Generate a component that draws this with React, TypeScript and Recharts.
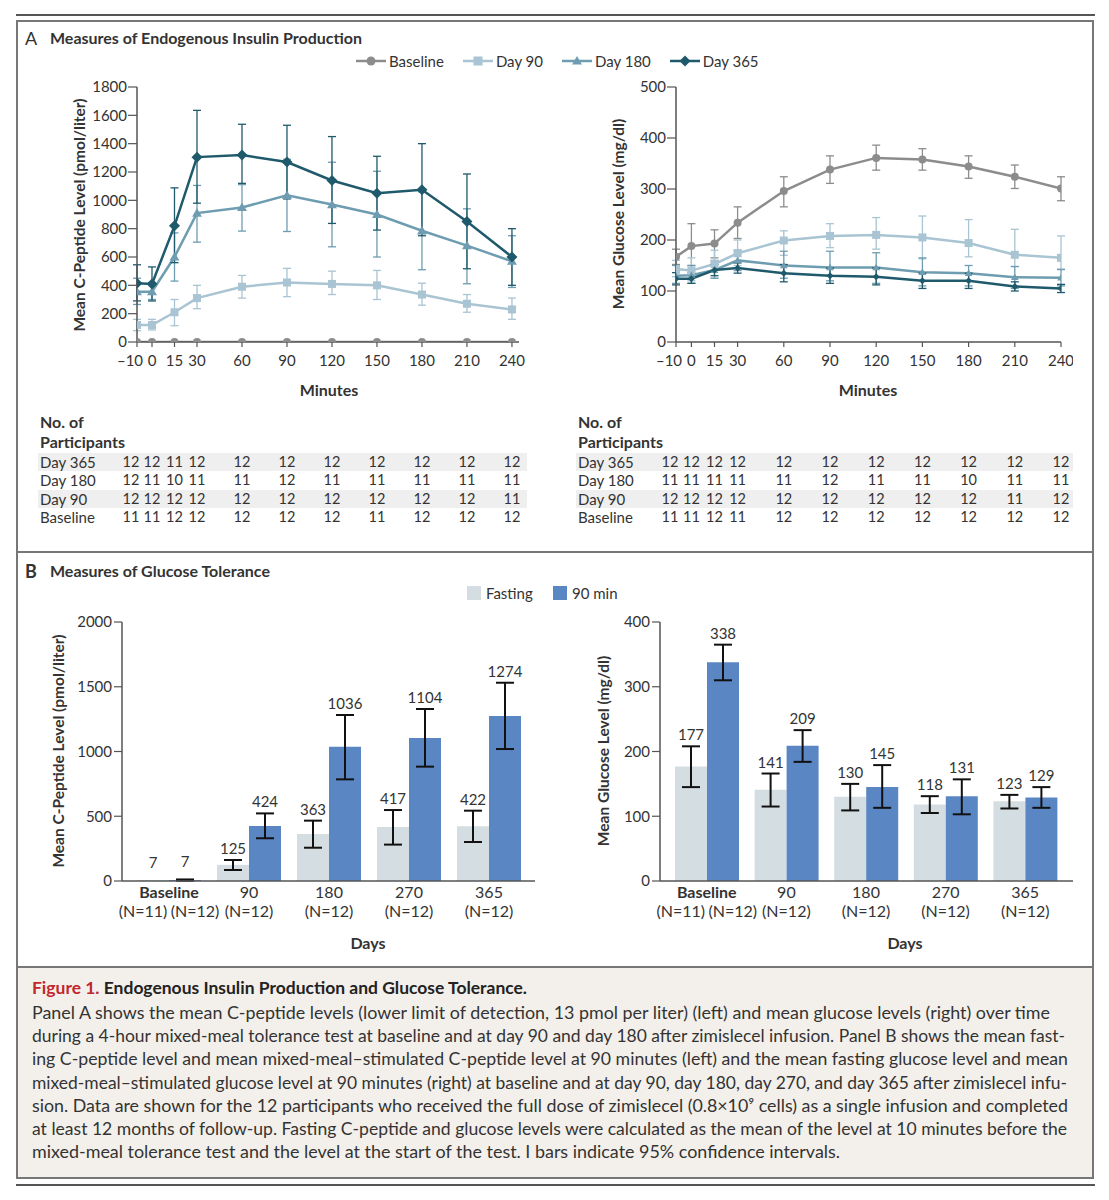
import { LineChart, Line, XAxis, YAxis, ErrorBar, BarChart, Bar, LabelList } from 'recharts';

// ---- Panel A: mixed-meal tolerance test time course ----
const minutes = [-10, 0, 15, 30, 60, 90, 120, 150, 180, 210, 240];

// C-peptide (pmol/liter)
const cpepBaseline = [0, 0, 0, 0, 0, 0, 0, 0, 0, 0, 0];
const cpepDay90 = [120, 120, 210, 310, 390, 420, 410, 400, 335, 270, 230];
const cpepDay90Lo = [80, 85, 115, 235, 310, 320, 335, 300, 260, 210, 160];
const cpepDay90Hi = [160, 160, 300, 400, 470, 520, 500, 505, 415, 335, 310];
const cpepDay180 = [355, 355, 600, 910, 950, 1035, 970, 900, 785, 680, 570];
const cpepDay180Lo = [265, 300, 430, 705, 783, 780, 672, 600, 510, 411, 385];
const cpepDay180Hi = [450, 420, 770, 1105, 1111, 1290, 1269, 1205, 1060, 940, 750];
const cpepDay365 = [415, 410, 820, 1305, 1320, 1270, 1140, 1050, 1075, 850, 600];
const cpepDay365Lo = [290, 290, 560, 980, 1120, 1010, 837, 790, 750, 517, 400];
const cpepDay365Hi = [545, 530, 1088, 1635, 1537, 1530, 1450, 1311, 1400, 1186, 800];

// Glucose (mg/dl)
const glucBaseline = [167, 188, 193, 234, 296, 338, 361, 358, 344, 324, 301];
const glucBaselineLo = [152, 150, 165, 203, 265, 311, 337, 337, 321, 301, 277];
const glucBaselineHi = [182, 232, 220, 265, 324, 365, 386, 379, 365, 347, 324];
const glucDay90 = [143, 140, 153, 174, 199, 208, 210, 205, 194, 171, 165];
const glucDay90Lo = [128, 120, 125, 150, 170, 185, 182, 163, 167, 148, 143];
const glucDay90Hi = [160, 165, 180, 200, 218, 232, 244, 247, 240, 221, 208];
const glucDay180 = [130, 131, 141, 160, 150, 146, 146, 137, 135, 127, 126];
const glucDay180Lo = [115, 115, 125, 140, 125, 120, 115, 110, 110, 105, 110];
const glucDay180Hi = [150, 150, 160, 180, 178, 178, 175, 165, 150, 148, 142];
const glucDay365 = [124, 124, 141, 145, 135, 130, 128, 120, 120, 109, 105];
const glucDay365Lo = [112, 115, 130, 135, 118, 115, 112, 105, 105, 100, 97];
const glucDay365Hi = [136, 135, 152, 155, 152, 145, 145, 135, 135, 118, 113];

const cpepTicks = [0, 200, 400, 600, 800, 1000, 1200, 1400, 1600, 1800];
const glucTicks = [0, 100, 200, 300, 400, 500];

// number of participants per time point
const tableRows = ['Day 365', 'Day 180', 'Day 90', 'Baseline'];
const cpepN = [
  [12, 12, 11, 12, 12, 12, 12, 12, 12, 12, 12],
  [12, 11, 10, 11, 11, 12, 11, 11, 11, 11, 11],
  [12, 12, 12, 12, 12, 12, 12, 12, 12, 12, 11],
  [11, 11, 12, 12, 12, 12, 12, 11, 12, 12, 12],
];
const glucN = [
  [12, 12, 12, 12, 12, 12, 12, 12, 12, 12, 12],
  [11, 11, 11, 11, 11, 12, 11, 11, 10, 11, 11],
  [12, 12, 12, 12, 12, 12, 12, 12, 12, 11, 12],
  [11, 11, 12, 11, 12, 12, 12, 12, 12, 12, 12],
];

// ---- Panel B: fasting vs 90 min ----
const days = ['Baseline', '90', '180', '270', '365'];
const groupN = [['(N=11)', '(N=12)'], ['(N=12)'], ['(N=12)'], ['(N=12)'], ['(N=12)']];
const cpepFast = [7, 125, 363, 417, 422];
const cpepFastLo = [null, 85, 257, 281, 301];
const cpepFastHi = [null, 162, 466, 548, 543];
const cpep90 = [7, 424, 1036, 1104, 1274];
const cpep90Lo = [2, 330, 785, 883, 1019];
const cpep90Hi = [12, 522, 1282, 1328, 1531];
const glucFast = [177, 141, 130, 118, 123];
const glucFastLo = [145, 115, 109, 105, 112];
const glucFastHi = [208, 166, 150, 131, 133];
const gluc90 = [338, 209, 145, 131, 129];
const gluc90Lo = [310, 184, 113, 103, 113];
const gluc90Hi = [365, 233, 179, 157, 145];

const cpepBarTicks = [0, 500, 1000, 1500, 2000];
const glucBarTicks = [0, 100, 200, 300, 400];

const C_BASE = '#8c8c8c';
const C_D90 = '#a9c4d2';
const C_D180 = '#6e9cb0';
const C_D365 = '#1f5a6c';
const C_FAST = '#d4dee2';
const C_MIN90 = '#5b86c4';
const TEXT = '#333';
const AXIS = '#555';
const FONT = 'Lato, "Open Sans", sans-serif';

type Shape = 'circle' | 'square' | 'triangle' | 'diamond';

function Marker({ shape, cx, cy, size, color }: { shape: Shape; cx: number; cy: number; size: number; color: string }) {
  const h = size / 2;
  if (shape === 'circle') return <circle cx={cx} cy={cy} r={h} fill={color} />;
  if (shape === 'square') return <rect x={cx - h} y={cy - h} width={size} height={size} fill={color} />;
  if (shape === 'triangle')
    return <polygon points={`${cx},${cy - h * 1.1} ${cx + h * 1.1},${cy + h * 0.8} ${cx - h * 1.1},${cy + h * 0.8}`} fill={color} />;
  return <polygon points={`${cx},${cy - h} ${cx + h},${cy} ${cx},${cy + h} ${cx - h},${cy}`} fill={color} />;
}

const dotRenderer = (shape: Shape, size: number, color: string) => (p: any) => {
  if (p.cx == null || p.cy == null) return <g key={`${shape}-${p.index}`} />;
  return <Marker key={`${shape}-${p.index}`} shape={shape} cx={p.cx} cy={p.cy} size={size} color={color} />;
};

interface Series {
  key: string;
  mean: number[];
  lo?: (number | null)[];
  hi?: (number | null)[];
  color: string;
  shape: Shape;
  size: number;
}

function buildRows(series: Series[]) {
  return minutes.map((m, i) => {
    const row: any = { minute: m };
    series.forEach((s) => {
      row[s.key] = s.mean[i];
      if (s.lo && s.hi) row[s.key + 'Err'] = [s.mean[i] - (s.lo[i] as number), (s.hi[i] as number) - s.mean[i]];
    });
    return row;
  });
}

const fmtMin = (v: number) => (v < 0 ? `\u2013${Math.abs(v)}` : `${v}`);

// first label is nudged left so "–10" and "0" don't collide
function MinuteTick(props: any) {
  const { x, y, payload } = props;
  const v = payload.value;
  return (
    <text x={x + (v === -10 ? -7 : 0)} y={y} dy="0.71em" textAnchor="middle" fontSize={15} fill={TEXT}>
      {fmtMin(v)}
    </text>
  );
}

function TimeChart({ series, yTicks, yMax, xMax, width, yAxisWidth, marginRight }: any) {
  const rows = buildRows(series);
  return (
    <LineChart width={width} height={302} data={rows} margin={{ top: 17, right: marginRight, bottom: 0, left: 0 }}>
      <XAxis
        type="number"
        dataKey="minute"
        domain={[-10, xMax]}
        ticks={minutes}
        interval={0}
        height={30}
        tick={<MinuteTick />}
        tickSize={5}
        tickMargin={8}
        axisLine={{ stroke: AXIS, strokeWidth: 1.5 }}
        tickLine={{ stroke: AXIS, strokeWidth: 1.2 }}
        allowDataOverflow
      />
      <YAxis
        type="number"
        domain={[0, yMax]}
        ticks={yTicks}
        interval={0}
        width={yAxisWidth}
        tick={{ fontSize: 15, fill: TEXT }}
        tickSize={9}
        tickMargin={1}
        axisLine={{ stroke: AXIS, strokeWidth: 1.5 }}
        tickLine={{ stroke: AXIS, strokeWidth: 1.2 }}
        allowDataOverflow
      />
      {series.map((s: Series) => (
        <Line
          key={s.key}
          dataKey={s.key}
          stroke={s.color}
          strokeWidth={2.5}
          dot={dotRenderer(s.shape, s.size, s.color)}
          activeDot={false}
          isAnimationActive={false}
        >
          {s.lo && s.hi ? (
            <ErrorBar dataKey={s.key + 'Err'} width={4} stroke={s.color} strokeWidth={1.3} direction="y" />
          ) : null}
        </Line>
      ))}
    </LineChart>
  );
}

const labelRenderer = (vals: number[], his: (number | null)[]) => (props: any) => {
  const vb = props.viewBox && props.viewBox.width != null ? props.viewBox : props;
  const idx = props.index;
  const v = vals[idx];
  const h = Math.abs(vb.height);
  const top = vb.height >= 0 ? vb.y : vb.y + vb.height;
  const ppu = v > 0 ? h / v : 0;
  const hi = his[idx] ?? v;
  const gap = hi - v < 10 ? 12 : 6;
  const y = top - Math.max(0, hi - v) * ppu - gap;
  return (
    <text key={`lbl-${idx}`} x={vb.x + vb.width / 2} y={y} textAnchor="middle" fontSize={15} fill={TEXT}>
      {v}
    </text>
  );
};

function DayTick(props: any) {
  const { x, y, payload, index } = props;
  const ns = groupN[index] || ['(N=12)'];
  const isBase = payload.value === 'Baseline';
  return (
    <g>
      <text x={x} y={y + 17} textAnchor="middle" fontSize={16} fontWeight={isBase ? 700 : 400} fill={TEXT}>
        {payload.value}
      </text>
      {ns.length === 2 ? (
        <>
          <text x={x - 26} y={y + 36} textAnchor="middle" fontSize={16} fill={TEXT}>{ns[0]}</text>
          <text x={x + 26} y={y + 36} textAnchor="middle" fontSize={16} fill={TEXT}>{ns[1]}</text>
        </>
      ) : (
        <text x={x} y={y + 36} textAnchor="middle" fontSize={16} fill={TEXT}>{ns[0]}</text>
      )}
    </g>
  );
}

function GroupBars({ fast, fastLo, fastHi, m90, m90Lo, m90Hi, yTicks, yMax, width, yAxisWidth, padding }: any) {
  const rows = days.map((d, i) => ({
    day: d,
    fasting: fast[i],
    min90: m90[i],
    fErr: fastLo[i] == null ? undefined : [fast[i] - fastLo[i], fastHi[i] - fast[i]],
    mErr: m90Lo[i] == null ? undefined : [m90[i] - m90Lo[i], m90Hi[i] - m90[i]],
  }));
  return (
    <BarChart
      width={width}
      height={331}
      data={rows}
      margin={{ top: 22, right: 5, bottom: 0, left: 0 }}
      barCategoryGap={8}
      barGap={0}
    >
      <XAxis
        dataKey="day"
        height={50}
        interval={0}
        padding={padding}
        tickSize={0}
        tickMargin={0}
        tickLine={false}
        axisLine={{ stroke: AXIS, strokeWidth: 1.5 }}
        tick={<DayTick />}
      />
      <YAxis
        type="number"
        domain={[0, yMax]}
        ticks={yTicks}
        interval={0}
        width={yAxisWidth}
        tick={{ fontSize: 15, fill: TEXT }}
        tickSize={8}
        tickMargin={2}
        axisLine={{ stroke: AXIS, strokeWidth: 1.5 }}
        tickLine={{ stroke: AXIS, strokeWidth: 1.2 }}
      />
      <Bar dataKey="fasting" fill={C_FAST} isAnimationActive={false}>
        <ErrorBar dataKey="fErr" width={9} stroke="#111" strokeWidth={2} direction="y" />
        <LabelList dataKey="fasting" content={labelRenderer(fast, fastHi)} />
      </Bar>
      <Bar dataKey="min90" fill={C_MIN90} isAnimationActive={false}>
        <ErrorBar dataKey="mErr" width={9} stroke="#111" strokeWidth={2} direction="y" />
        <LabelList dataKey="min90" content={labelRenderer(m90, m90Hi)} />
      </Bar>
    </BarChart>
  );
}

const abs = (left: number, top: number, extra: any = {}) => ({ position: 'absolute' as const, left, top, ...extra });

function VLabel({ text, cx, cy }: { text: string; cx: number; cy: number }) {
  return (
    <div
      style={abs(cx - 160, cy - 10, {
        width: 320,
        height: 20,
        lineHeight: '20px',
        textAlign: 'center',
        transform: 'rotate(-90deg)',
        fontSize: 15.5,
        fontWeight: 700,
        color: TEXT,
        whiteSpace: 'nowrap',
      })}
    >
      {text}
    </div>
  );
}

function CenterText({ text, cx, cy, bold = true, size = 16 }: any) {
  return (
    <div
      style={abs(cx - 100, cy - 10, {
        width: 200,
        height: 20,
        lineHeight: '20px',
        textAlign: 'center',
        fontSize: size,
        fontWeight: bold ? 700 : 400,
        color: TEXT,
      })}
    >
      {text}
    </div>
  );
}

function CountTable({ left, right, counts, xOf }: any) {
  return (
    <>
      <div style={abs(left + 2, 412, { fontSize: 16, fontWeight: 700, color: TEXT, lineHeight: '20px' })}>
        No. of
        <br />
        Participants
      </div>
      {tableRows.map((r, ri) => (
        <div key={r}>
          {ri % 2 === 0 ? (
            <div style={abs(left, 453 + ri * 18.3, { width: right - left, height: 18, background: '#efefef' })} />
          ) : null}
          <div style={abs(left + 2, 453 + ri * 18.3, { fontSize: 15, color: TEXT, lineHeight: '18px' })}>{r}</div>
          {counts[ri].map((n: number, ci: number) => (
            <div
              key={ci}
              style={abs(xOf(ci) - 15, 453 + ri * 18.3, {
                width: 30,
                textAlign: 'center',
                fontSize: 14.5,
                color: TEXT,
                lineHeight: '18px',
              })}
            >
              {n}
            </div>
          ))}
        </div>
      ))}
    </>
  );
}

const legendA: { label: string; color: string; shape: Shape; size: number }[] = [
  { label: 'Baseline', color: C_BASE, shape: 'circle', size: 9 },
  { label: 'Day 90', color: C_D90, shape: 'square', size: 9 },
  { label: 'Day 180', color: C_D180, shape: 'triangle', size: 9 },
  { label: 'Day 365', color: C_D365, shape: 'diamond', size: 11 },
];

const captionLines = [
  'Panel A shows the mean C-peptide levels (lower limit of detection, 13 pmol per liter) (left) and mean glucose levels (right) over time',
  'during a 4-hour mixed-meal tolerance test at baseline and at day 90 and day 180 after zimislecel infusion. Panel B shows the mean fast-',
  'ing C-peptide level and mean mixed-meal\u2013stimulated C-peptide level at 90 minutes (left) and the mean fasting glucose level and mean',
  'mixed-meal\u2013stimulated glucose level at 90 minutes (right) at baseline and at day 90, day 180, day 270, and day 365 after zimislecel infu-',
  'sion. Data are shown for the 12 participants who received the full dose of zimislecel (0.8\u00d710\u2079 cells) as a single infusion and completed',
  'at least 12 months of follow-up. Fasting C-peptide and glucose levels were calculated as the mean of the level at 10 minutes before the',
  'mixed-meal tolerance test and the level at the start of the test. I bars indicate 95% confidence intervals.',
];
const captionWidths = [1018, 1033, 1036, 1035, 1036, 1035, 808];

export default function App() {
  const cpepSeries: Series[] = [
    { key: 'base', mean: cpepBaseline, color: C_BASE, shape: 'circle', size: 8 },
    { key: 'd90', mean: cpepDay90, lo: cpepDay90Lo, hi: cpepDay90Hi, color: C_D90, shape: 'square', size: 8 },
    { key: 'd180', mean: cpepDay180, lo: cpepDay180Lo, hi: cpepDay180Hi, color: C_D180, shape: 'triangle', size: 9 },
    { key: 'd365', mean: cpepDay365, lo: cpepDay365Lo, hi: cpepDay365Hi, color: C_D365, shape: 'diamond', size: 11 },
  ];
  const glucSeries: Series[] = [
    { key: 'base', mean: glucBaseline, lo: glucBaselineLo, hi: glucBaselineHi, color: C_BASE, shape: 'circle', size: 8 },
    { key: 'd90', mean: glucDay90, lo: glucDay90Lo, hi: glucDay90Hi, color: C_D90, shape: 'square', size: 8 },
    { key: 'd180', mean: glucDay180, lo: glucDay180Lo, hi: glucDay180Hi, color: C_D180, shape: 'triangle', size: 7 },
    { key: 'd365', mean: glucDay365, lo: glucDay365Lo, hi: glucDay365Hi, color: C_D365, shape: 'diamond', size: 7 },
  ];
  const xLeft = (ci: number) => 137 + (minutes[ci] + 10) * 1.5 - (ci === 0 ? 6 : 0);
  const xRight = (ci: number) => 676 + (minutes[ci] + 10) * 1.54 - (ci === 0 ? 6 : 0);

  return (
    <div style={{ position: 'absolute', left: 0, top: 0, width: 1109, height: 1200, background: '#fff', fontFamily: FONT, color: TEXT }}>
      {/* frame */}
      <div style={abs(16, 14, { width: 1079, height: 2, background: '#555' })} />
      <div style={abs(16, 20, { width: 1078, height: 1159, border: '2px solid #777', boxSizing: 'border-box' })} />
      <div style={abs(16, 551, { width: 1078, height: 2, background: '#777' })} />
      <div style={abs(18, 968, { width: 1074, height: 209, background: '#f3f0eb' })} />
      <div style={abs(16, 966, { width: 1078, height: 2, background: '#777' })} />
      <div style={abs(16, 1184, { width: 1079, height: 2, background: '#555' })} />

      {/* Panel A */}
      <div style={abs(25, 27, { fontSize: 18, lineHeight: '22px' })}>A</div>
      <div style={abs(50, 28, { fontSize: 16, fontWeight: 700, lineHeight: '20px' })}>Measures of Endogenous Insulin Production</div>

      <div style={abs(356, 51, { display: 'flex', alignItems: 'center', gap: 19, height: 20 })}>
        {legendA.map((l) => (
          <div key={l.label} style={{ display: 'flex', alignItems: 'center' }}>
            <svg width={30} height={14} style={{ marginRight: 3 }}>
              <line x1={0} y1={7} x2={30} y2={7} stroke={l.color} strokeWidth={2.5} />
              <Marker shape={l.shape} cx={15} cy={7} size={l.size} color={l.color} />
            </svg>
            <span style={{ fontSize: 15 }}>{l.label}</span>
          </div>
        ))}
      </div>

      <div style={abs(40, 70)}>
        <TimeChart series={cpepSeries} yTicks={cpepTicks} yMax={1800} xMax={244.7} width={489} yAxisWidth={97} marginRight={10} />
      </div>
      <VLabel text="Mean C-Peptide Level (pmol/liter)" cx={79} cy={215} />
      <CenterText text="Minutes" cx={329} cy={390} />

      <div style={abs(580, 70)}>
        <TimeChart series={glucSeries} yTicks={glucTicks} yMax={500} xMax={240} width={493} yAxisWidth={96} marginRight={12} />
      </div>
      <VLabel text="Mean Glucose Level (mg/dl)" cx={618} cy={214} />
      <CenterText text="Minutes" cx={868} cy={390} />

      <CountTable left={38} right={527} counts={cpepN} xOf={xLeft} />
      <CountTable left={576} right={1073} counts={glucN} xOf={xRight} />

      {/* Panel B */}
      <div style={abs(25, 560, { fontSize: 18, lineHeight: '22px', fontWeight: 700 })}>B</div>
      <div style={abs(50, 561, { fontSize: 16, fontWeight: 700, lineHeight: '20px' })}>Measures of Glucose Tolerance</div>

      <div style={abs(467, 586, { width: 14, height: 14, background: C_FAST })} />
      <div style={abs(486, 583, { fontSize: 15, lineHeight: '20px' })}>Fasting</div>
      <div style={abs(553, 586, { width: 14, height: 14, background: C_MIN90 })} />
      <div style={abs(572, 583, { fontSize: 15, lineHeight: '20px' })}>90 min</div>

      <div style={abs(30, 600)}>
        <GroupBars
          fast={cpepFast}
          fastLo={cpepFastLo}
          fastHi={cpepFastHi}
          m90={cpep90}
          m90Lo={cpep90Lo}
          m90Hi={cpep90Hi}
          yTicks={cpepBarTicks}
          yMax={2000}
          width={510}
          yAxisWidth={92}
          padding={{ left: 7, right: 6 }}
        />
      </div>
      <VLabel text="Mean C-Peptide Level (pmol/liter)" cx={58} cy={751} />
      <CenterText text="Days" cx={368} cy={943} />

      <div style={abs(570, 600)}>
        <GroupBars
          fast={glucFast}
          fastLo={glucFastLo}
          fastHi={glucFastHi}
          m90={gluc90}
          m90Lo={gluc90Lo}
          m90Hi={gluc90Hi}
          yTicks={glucBarTicks}
          yMax={400}
          width={508}
          yAxisWidth={90}
          padding={{ left: 7, right: 8 }}
        />
      </div>
      <VLabel text="Mean Glucose Level (mg/dl)" cx={603} cy={751} />
      <CenterText text="Days" cx={905} cy={943} />

      {/* caption */}
      <svg style={abs(0, 960)} width={1109} height={230} fontFamily={FONT}>
        <text x={32} y={34} fontSize={17} fontWeight={700} textLength={495} lengthAdjust="spacingAndGlyphs">
          <tspan fill="#c1272d">Figure 1.</tspan>
          <tspan fill="#222"> Endogenous Insulin Production and Glucose Tolerance.</tspan>
        </text>
        {captionLines.map((t, i) => (
          <text
            key={i}
            x={32}
            y={59 + i * 23.2}
            fontSize={17}
            fill="#333"
            textLength={captionWidths[i]}
            lengthAdjust="spacingAndGlyphs"
          >
            {t}
          </text>
        ))}
      </svg>
    </div>
  );
}
